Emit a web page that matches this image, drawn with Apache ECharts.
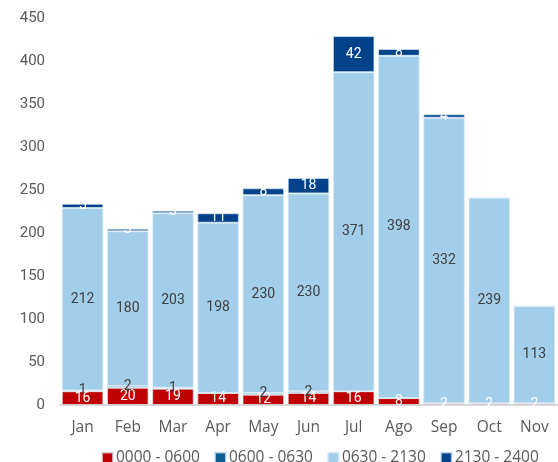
<!DOCTYPE html>
<html>
<head>
<meta charset="utf-8">
<script src="https://cdn.jsdelivr.net/npm/echarts@6/dist/echarts.min.js"></script>
<style>
  html, body { margin: 0; padding: 0; background: #fff; }
  #main { width: 558px; height: 462px; }
</style>
</head>
<body>
<div id="main"></div>
<script>
// datos por franja horaria
var months = ['Jan', 'Feb', 'Mar', 'Apr', 'May', 'Jun', 'Jul', 'Ago', 'Sep', 'Oct', 'Nov'];
var seriesNames = ['0000 - 0600', '0600 - 0630', '0630 - 2130', '2130 - 2400'];
var night = [16, 20, 19, 14, 12, 14, 16, 8, 2, 2, 2];
var early = [1, 2, 1, 0, 2, 2, 0, 0, 0, 0, 0];
var day = [212, 180, 203, 198, 230, 230, 371, 398, 332, 239, 113];
var late = [5, 3, 3, 11, 8, 18, 42, 8, 4, 0, 0];
var yTicks = [0, 50, 100, 150, 200, 250, 300, 350, 400, 450];

var colors = ['#C00000', '#0C5E91', '#A2CEEA', '#01428A'];
var labelColors = ['#fff', '#404040', '#404040', '#fff'];

var myChart = echarts.init(document.getElementById('main'));

function mkSeries(idx, data) {
    return {
        name: seriesNames[idx],
        type: 'bar',
        stack: 'total',
        barCategoryGap: '8%',
        data: data,
        itemStyle: {
            color: colors[idx],
            borderColor: 'rgba(220,236,248,0.7)',
            borderWidth: 1
        },
        label: {
            show: true,
            position: 'inside',
            color: labelColors[idx],
            fontFamily: 'Roboto',
            fontSize: 14,
            formatter: function (p) { return p.value === 0 ? '' : p.value; }
        }
    };
}

var option = {
    animation: false,
    grid: { left: 60, right: 1, top: 18, bottom: 57 },
    legend: {
        top: 445,
        left: 96,
        itemWidth: 11,
        itemHeight: 11,
        itemGap: 14,
        icon: 'rect',
        textStyle: { color: '#595959', fontSize: 15.5, fontFamily: 'Open Sans', padding: [0, 0, 0, -2] },
        data: seriesNames
    },
    xAxis: {
        type: 'category',
        data: months,
        axisTick: { show: false },
        axisLine: { lineStyle: { color: '#d9d9d9', width: 2 } },
        axisLabel: { color: '#595959', fontSize: 15.5, fontFamily: 'Open Sans', margin: 15 }
    },
    yAxis: {
        type: 'value',
        min: yTicks[0],
        max: yTicks[yTicks.length - 1],
        interval: 50,
        splitLine: { show: false },
        axisLine: { show: false },
        axisTick: { show: false },
        axisLabel: { color: '#595959', fontSize: 15, fontFamily: 'Roboto', margin: 15 }
    },
    series: [
        mkSeries(0, night),
        mkSeries(1, early),
        mkSeries(2, day),
        mkSeries(3, late)
    ]
};

myChart.setOption(option);
</script>
</body>
</html>
